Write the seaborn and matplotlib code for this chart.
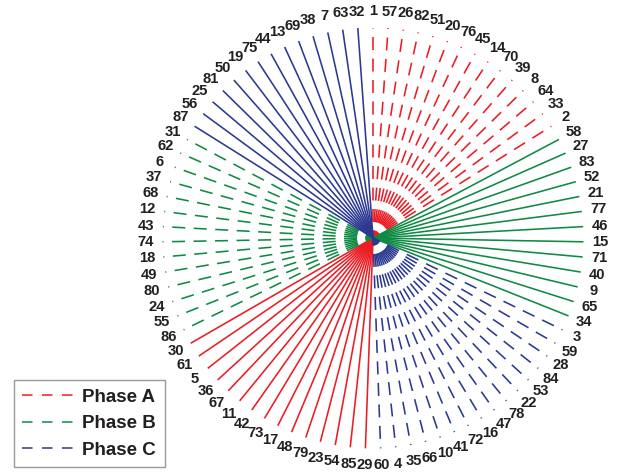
import numpy as np
import pandas as pd
import matplotlib
matplotlib.use("Agg")
import matplotlib.pyplot as plt
from matplotlib.lines import Line2D
import seaborn as sns

# node numbers, read clockwise starting at the top, one list per sector
a_dashed = [1, 57, 26, 82, 51, 20, 76, 45, 14, 70, 39, 8, 64, 33, 2]
b_solid = [58, 27, 83, 52, 21, 77, 46, 15, 71, 40, 9, 65, 34]
c_dashed = [3, 59, 28, 84, 53, 22, 78, 47, 16, 72, 41, 10, 66, 35, 4, 60]
a_solid = [29, 85, 54, 23, 79, 48, 17, 73, 42, 11, 67, 36, 5, 61, 30]
b_dashed = [86, 55, 24, 80, 49, 18, 74, 43, 12, 68, 37, 6, 62, 31]
c_solid = [87, 56, 25, 81, 50, 19, 75, 44, 13, 69, 38, 7, 63, 32]

sectors = [
    ("Phase A", "dashed", a_dashed),
    ("Phase B", "solid", b_solid),
    ("Phase C", "dashed", c_dashed),
    ("Phase A", "solid", a_solid),
    ("Phase B", "dashed", b_dashed),
    ("Phase C", "solid", c_solid),
]
phases = ["Phase A", "Phase B", "Phase C"]
colors = {"Phase A": "#ec1c24", "Phase B": "#0f8a45", "Phase C": "#2b3990"}

# layout in pixels (axes fill the figure, 1 data unit = 1 px)
W, H = 632, 472
CX, CY = 373, 238
R_LINE = 210.5
R_LABEL = 227
PX = 0.72  # points per pixel at dpi 100

nodes, kinds, phase_of = [], [], []
for phase, kind, lst in sectors:
    nodes += lst
    kinds += [kind] * len(lst)
    phase_of += [phase] * len(lst)
n = len(nodes)
theta = np.arange(n) * 2 * np.pi / n

rows = []
for k in range(n):
    for r in (0.0, R_LINE):
        rows.append({"node": nodes[k], "phase": phase_of[k], "kind": kinds[k],
                     "x": r * np.sin(theta[k]), "y": r * np.cos(theta[k])})
df = pd.DataFrame(rows)

sns.set_style("white")
plt.rcParams["font.family"] = ["Liberation Sans", "DejaVu Sans"]
plt.rcParams["lines.scale_dashes"] = False

fig = plt.figure(figsize=(W / 100, H / 100), dpi=100)
ax = fig.add_axes([0, 0, 1, 1])

dash = (13 * PX, 8.5 * PX)
sns.lineplot(data=df, x="x", y="y", hue="phase", style="kind", units="node",
             estimator=None, sort=False, palette=colors, hue_order=phases,
             dashes={"solid": "", "dashed": dash}, linewidth=1.15,
             legend=False, ax=ax)
for ln in ax.lines:
    if ln.get_linestyle() == "--":
        ln.set_linestyle((5.5 * PX, dash))
        ln.set_dash_capstyle("butt")
    else:
        ln.set_solid_capstyle("butt")

for k in range(n):
    ax.text(R_LABEL * np.sin(theta[k]), R_LABEL * np.cos(theta[k]), str(nodes[k]),
            ha="center", va="center", fontsize=10.6, fontweight="bold", color="#231f20")

ax.set_xlim(-CX, W - CX)
ax.set_ylim(-(H - CY), CY)
ax.axis("off")

handles = [Line2D([], [], color=colors[p], lw=1.1, linestyle=(0, (10.5 * PX, 9.5 * PX)))
           for p in phases]
leg = ax.legend(handles, phases, loc="lower left", bbox_to_anchor=(14 / W, 5 / H),
                bbox_transform=fig.transFigure, frameon=True, fancybox=False,
                prop={"weight": "bold", "size": 13.5}, handlelength=2.7,
                handletextpad=0.5, borderpad=0.45, labelspacing=0.5,
                borderaxespad=0)
leg.get_frame().set_edgecolor("#808080")
leg.get_frame().set_linewidth(1.0)
for t in leg.get_texts():
    t.set_color("#231f20")

fig.savefig("out.png", dpi=100)
